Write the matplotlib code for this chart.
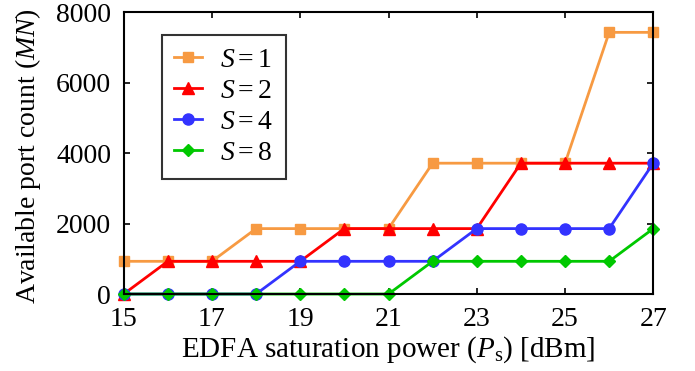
import matplotlib
matplotlib.use('Agg')
import matplotlib.pyplot as plt

plt.rcParams['font.family'] = 'Liberation Serif'
plt.rcParams['mathtext.fontset'] = 'custom'
plt.rcParams['mathtext.rm'] = 'Liberation Serif'
plt.rcParams['mathtext.it'] = 'Liberation Serif:italic'

# EDFA saturation power [dBm]
power = [15, 16, 17, 18, 19, 20, 21, 22, 23, 24, 25, 26, 27]

# available port count for each S
s1 = [928, 928, 928, 1856, 1856, 1856, 1856, 3712, 3712, 3712, 3712, 7424, 7424]
s2 = [0, 928, 928, 928, 928, 1856, 1856, 1856, 1856, 3712, 3712, 3712, 3712]
s4 = [0, 0, 0, 0, 928, 928, 928, 928, 1856, 1856, 1856, 1856, 3712]
s8 = [0, 0, 0, 0, 0, 0, 0, 928, 928, 928, 928, 928, 1856]

x_ticks = [15, 17, 19, 21, 23, 25, 27]
y_ticks = [0, 2000, 4000, 6000, 8000]

fig = plt.figure(figsize=(6.95, 3.71), dpi=100)
ax = fig.add_axes([0.178, 0.2075, 0.762, 0.76])

ax.plot(power, s1, '-s', color='#F79A42', lw=2, ms=7, label='$S=1$', clip_on=False)
ax.plot(power, s2, '-^', color='#FF0000', lw=2, ms=8, label='$S=2$', clip_on=False)
ax.plot(power, s4, '-o', color='#3333FF', lw=2, ms=8, label='$S=4$', clip_on=False)
ax.plot(power, s8, '-D', color='#00C800', lw=2, ms=6, label='$S=8$', clip_on=False)

ax.set_xlim(15, 27)
ax.set_ylim(0, 8000)
ax.set_xticks(x_ticks)
ax.set_yticks(y_ticks)
ax.tick_params(direction='in', top=True, right=True, length=4, width=1.2,
               labelsize=20)
ax.tick_params(axis='x', pad=9)
ax.tick_params(axis='y', pad=9)
for sp in ax.spines.values():
    sp.set_linewidth(1.5)

ax.set_xlabel('EDFA saturation power ($P_\\mathrm{s}$) [dBm]', fontsize=21, labelpad=2)
ax.set_ylabel('Available port count ($MN$)', fontsize=20)
ax.yaxis.set_label_coords(-0.152, 0.49)

leg = ax.legend(loc='upper left', bbox_to_anchor=(0.072, 0.918), borderaxespad=0,
                fontsize=20, fancybox=False, edgecolor='black', handlelength=1.0,
                handletextpad=0.65, labelspacing=0.2, borderpad=0.45)
leg.get_frame().set_linewidth(1.5)

fig.savefig('out.png', dpi=100)
